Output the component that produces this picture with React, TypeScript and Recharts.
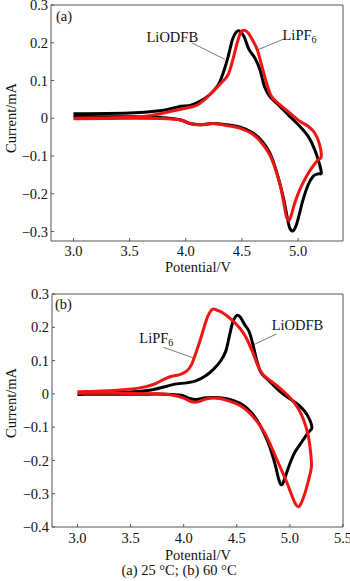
import React from 'react';
import { LineChart, Line, XAxis, YAxis, ReferenceLine } from 'recharts';

// ---------- Panel (a) 25 °C ----------
const aLiODFB_V = [3.0, 3.504, 3.77, 3.89, 3.96, 4.04, 4.126, 4.215, 4.29, 4.333, 4.378, 4.416, 4.452, 4.48, 4.517, 4.564, 4.615, 4.66, 4.70, 4.748, 4.837, 4.926, 5.015, 5.09, 5.148, 5.187, 5.207,
  5.178, 5.133, 5.09, 5.044, 5.006, 4.98, 4.956, 4.926, 4.902, 4.873, 4.837, 4.793, 4.748, 4.689, 4.60, 4.48, 4.363, 4.244, 4.126, 4.04, 3.95, 3.83, 3.533, 3.0];
const aLiODFB_I = [0.012, 0.014, 0.020, 0.027, 0.032, 0.034, 0.045, 0.063, 0.089, 0.12, 0.164, 0.209, 0.229, 0.231, 0.2175, 0.182, 0.16, 0.129, 0.085, 0.058, 0.032, 0.005, -0.021, -0.048, -0.083, -0.118, -0.145,
  -0.147, -0.154, -0.176, -0.216, -0.26, -0.286, -0.298, -0.291, -0.26, -0.216, -0.172, -0.127, -0.092, -0.064, -0.039, -0.023, -0.017, -0.014, -0.017, -0.014, -0.004, 0.001, 0.004, 0.005];

const aLiPF6_V = [3.0, 3.533, 3.74, 3.89, 4.007, 4.096, 4.17, 4.244, 4.318, 4.378, 4.42, 4.458, 4.487, 4.517, 4.556, 4.6, 4.636, 4.674, 4.719, 4.763, 4.837, 4.926, 5.015, 5.09, 5.148, 5.187, 5.207,
  5.178, 5.133, 5.074, 5.015, 4.97, 4.94, 4.92, 4.896, 4.873, 4.843, 4.80, 4.753, 4.689, 4.60, 4.48, 4.363, 4.244, 4.126, 4.05, 3.963, 3.83, 3.533, 3.0];
const aLiPF6_I = [0.0, 0.003, 0.01, 0.02, 0.027, 0.034, 0.05, 0.072, 0.094, 0.116, 0.156, 0.2, 0.226, 0.233, 0.226, 0.204, 0.182, 0.142, 0.094, 0.058, 0.036, 0.014, -0.008, -0.021, -0.039, -0.065, -0.101,
  -0.11, -0.127, -0.154, -0.189, -0.225, -0.256, -0.27, -0.26, -0.225, -0.18, -0.136, -0.1, -0.07, -0.043, -0.026, -0.019, -0.014, -0.017, -0.015, -0.005, -0.001, 0.0, -0.001];

// ---------- Panel (b) 60 °C ----------
const bLiODFB_V = [3.0, 3.526, 3.714, 3.84, 3.933, 4.027, 4.12, 4.2, 4.277, 4.346, 4.396, 4.433, 4.465, 4.502, 4.534, 4.574, 4.615, 4.652, 4.69, 4.73, 4.808, 4.903, 4.997, 5.075, 5.138, 5.185, 5.207,
  5.17, 5.106, 5.044, 4.997, 4.96, 4.934, 4.912, 4.89, 4.865, 4.834, 4.796, 4.762, 4.715, 4.652, 4.574, 4.465, 4.34, 4.215, 4.12, 4.056, 3.978, 3.84, 3.526, 3.0];
const bLiODFB_I = [-0.002, 0.006, 0.013, 0.023, 0.03, 0.033, 0.04, 0.053, 0.073, 0.098, 0.128, 0.178, 0.218, 0.236, 0.23, 0.208, 0.188, 0.148, 0.098, 0.063, 0.038, 0.008, -0.014, -0.032, -0.052, -0.077, -0.102,
  -0.117, -0.147, -0.177, -0.212, -0.246, -0.269, -0.271, -0.251, -0.217, -0.182, -0.147, -0.122, -0.092, -0.062, -0.037, -0.02, -0.012, -0.012, -0.017, -0.014, -0.004, -0.001, -0.001, -0.001];

const bLiPF6_V = [3.0, 3.37, 3.588, 3.714, 3.808, 3.886, 3.964, 4.027, 4.074, 4.115, 4.152, 4.19, 4.23, 4.27, 4.308, 4.37, 4.45, 4.527, 4.59, 4.652, 4.7, 4.746, 4.824, 4.903, 4.997, 5.075, 5.128, 5.17, 5.194, 5.203,
  5.185, 5.153, 5.116, 5.084, 5.053, 5.013, 4.965, 4.918, 4.87, 4.815, 4.762, 4.7, 4.62, 4.527, 4.43, 4.34, 4.23, 4.135, 4.074, 3.995, 3.9, 3.744, 3.37, 3.0];
const bLiPF6_I = [0.006, 0.011, 0.018, 0.028, 0.043, 0.053, 0.058, 0.068, 0.088, 0.123, 0.158, 0.198, 0.236, 0.254, 0.252, 0.243, 0.223, 0.198, 0.168, 0.123, 0.083, 0.058, 0.038, 0.018, -0.01, -0.042, -0.077, -0.122, -0.172, -0.217,
  -0.247, -0.286, -0.321, -0.339, -0.331, -0.301, -0.261, -0.227, -0.192, -0.152, -0.117, -0.087, -0.057, -0.034, -0.022, -0.014, -0.014, -0.024, -0.024, -0.012, -0.004, 0.0, 0.002, 0.002];

// ---------- axes ----------
const aXTicks = [3.0, 3.5, 4.0, 4.5, 5.0];
const aYTicks = [-0.3, -0.2, -0.1, 0, 0.1, 0.2, 0.3];
const bXTicks = [3.0, 3.5, 4.0, 4.5, 5.0, 5.5];
const bYTicks = [-0.4, -0.3, -0.2, -0.1, 0, 0.1, 0.2, 0.3];
const aXDomain = [2.8, 5.4];
const aYDomain = [-0.325, 0.3];
const bXDomain = [2.76, 5.5];
const bYDomain = [-0.4, 0.3];

// leader lines (data coordinates)
const aLeaderODFB = [{ x: 4.052, y: 0.2 }, { x: 4.348, y: 0.156 }];
const aLeaderPF6 = [{ x: 4.882, y: 0.211 }, { x: 4.63, y: 0.18 }];
const bLeaderPF6 = [{ x: 3.808, y: 0.14 }, { x: 4.09, y: 0.108 }];
const bLeaderODFB = [{ x: 4.874, y: 0.18 }, { x: 4.661, y: 0.148 }];

const zip = (vs: number[], is: number[]) => vs.map((v, k) => ({ x: v, y: is[k] }));

const FONT = '"Liberation Serif", "Times New Roman", serif';
const FS = 14.5;
const RED = '#f01515';
const FRAME = '#555';

// Catmull-Rom curve factory (d3 curve interface)
function catmull(context: any) {
  let pts: number[][] = [];
  return {
    areaStart() {},
    areaEnd() {},
    lineStart() { pts = []; },
    point(x: number, y: number) { pts.push([+x, +y]); },
    lineEnd() {
      if (!pts.length) return;
      context.moveTo(pts[0][0], pts[0][1]);
      const t = 1 / 6;
      for (let i = 0; i < pts.length - 1; i++) {
        const p0 = pts[i - 1] || pts[i];
        const p1 = pts[i];
        const p2 = pts[i + 1];
        const p3 = pts[i + 2] || p2;
        context.bezierCurveTo(
          p1[0] + (p2[0] - p0[0]) * t, p1[1] + (p2[1] - p0[1]) * t,
          p2[0] - (p3[0] - p1[0]) * t, p2[1] - (p3[1] - p1[1]) * t,
          p2[0], p2[1]
        );
      }
    },
  };
}

const fmtY = (v: number) => (v === 0 ? '0' : (v < 0 ? '\u2212' : '') + Math.abs(v).toFixed(1));
const fmtX = (v: number) => v.toFixed(1);

const tickStyle = { fontFamily: FONT, fontSize: FS, fill: '#111' };

function Panel(props: any) {
  const { xDomain, yDomain, xTicks, yTicks, black, red, leaders, yAxisWidth, top, height, xAxisHeight, xTickMargin } = props;
  return (
    <div style={{ position: 'absolute', left: 0, top, width: 350, height }}>
      <LineChart width={350} height={height} margin={{ top: props.marginTop, right: 7, bottom: 0, left: 0 }}>
        <XAxis
          type="number"
          dataKey="x"
          domain={xDomain}
          ticks={xTicks}
          allowDataOverflow
          tickFormatter={fmtX}
          tick={tickStyle}
          tickSize={-3}
          tickMargin={xTickMargin}
          height={xAxisHeight}
          stroke={FRAME}
          interval={0}
        />
        <YAxis
          type="number"
          dataKey="y"
          domain={yDomain}
          ticks={yTicks}
          allowDataOverflow
          tickFormatter={fmtY}
          tick={tickStyle}
          tickSize={-3}
          tickMargin={6}
          width={yAxisWidth}
          stroke={FRAME}
          interval={0}
        />
        <ReferenceLine y={yDomain[1]} stroke={FRAME} strokeWidth={1} />
        <ReferenceLine x={xDomain[1]} stroke={FRAME} strokeWidth={1} />
        {leaders.map((seg: any, k: number) => (
          <ReferenceLine key={k} segment={seg} stroke="#555" strokeWidth={0.8} />
        ))}
        <Line data={black} dataKey="y" type={catmull as any} stroke="#000" strokeWidth={3} dot={false} isAnimationActive={false} strokeLinejoin="round" />
        <Line data={red} dataKey="y" type={catmull as any} stroke={RED} strokeWidth={3} dot={false} isAnimationActive={false} strokeLinejoin="round" />
      </LineChart>
    </div>
  );
}

export default function App() {
  const textProps = { fontFamily: FONT, fontSize: FS, fill: '#111' };
  return (
    <div style={{ position: 'absolute', left: 0, top: 0, width: 350, height: 581, background: '#fff' }}>
      <Panel
        top={0}
        height={270}
        marginTop={5}
        xAxisHeight={29}
        xTickMargin={8}
        yAxisWidth={51}
        xDomain={aXDomain}
        yDomain={aYDomain}
        xTicks={aXTicks}
        yTicks={aYTicks}
        black={zip(aLiODFB_V, aLiODFB_I)}
        red={zip(aLiPF6_V, aLiPF6_I)}
        leaders={[aLeaderODFB, aLeaderPF6]}
      />
      <Panel
        top={288}
        height={260}
        marginTop={6}
        xAxisHeight={21}
        xTickMargin={9}
        yAxisWidth={52}
        xDomain={bXDomain}
        yDomain={bYDomain}
        xTicks={bXTicks}
        yTicks={bYTicks}
        black={zip(bLiODFB_V, bLiODFB_I)}
        red={zip(bLiPF6_V, bLiPF6_I)}
        leaders={[bLeaderPF6, bLeaderODFB]}
      />
      <svg width={350} height={581} style={{ position: 'absolute', left: 0, top: 0, pointerEvents: 'none' }}>
        <text {...textProps} x={56} y={21}>(a)</text>
        <text {...textProps} x={146.5} y={41.5}>LiODFB</text>
        <text {...textProps} x={282.5} y={39.5}>LiPF<tspan fontSize={10} dy={3}>6</tspan></text>
        <text {...textProps} x={198} y={272} textAnchor="middle">Potential/V</text>
        <text {...textProps} transform="translate(15.5,118) rotate(-90)" textAnchor="middle">Current/mA</text>

        <text {...textProps} x={55} y={309}>(b)</text>
        <text {...textProps} x={139.3} y={342.5}>LiPF<tspan fontSize={10} dy={3}>6</tspan></text>
        <text {...textProps} x={271.7} y={329.5}>LiODFB</text>
        <text {...textProps} x={198} y={560} textAnchor="middle">Potential/V</text>
        <text {...textProps} transform="translate(15.5,403) rotate(-90)" textAnchor="middle">Current/mA</text>
        <text {...textProps} x={179} y={575} textAnchor="middle">(a) 25 °C; (b) 60 °C</text>
      </svg>
    </div>
  );
}
